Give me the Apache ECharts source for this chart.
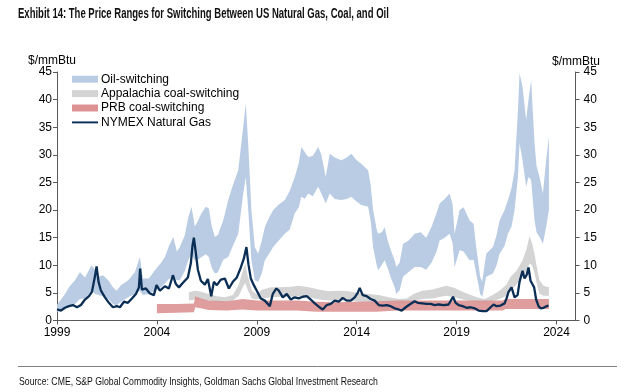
<!DOCTYPE html>
<html><head><meta charset="utf-8">
<script src="https://cdn.jsdelivr.net/npm/echarts@6/dist/echarts.min.js"></script>
<style>html,body{margin:0;padding:0;background:#fff}#c{width:640px;height:392px}</style>
</head><body><div id="c"></div><script>
const xTicks=[1999,2004,2009,2014,2019,2024];
const gasYears=[1999.0,1999.2,1999.4,1999.6,1999.8,2000.0,2000.2,2000.4,2000.6,2000.75,2000.9,2000.98,2001.08,2001.2,2001.4,2001.6,2001.8,2002.0,2002.15,2002.35,2002.55,2002.75,2002.95,2003.1,2003.16,2003.25,2003.45,2003.65,2003.85,2003.98,2004.15,2004.4,2004.6,2004.8,2004.95,2005.1,2005.35,2005.55,2005.7,2005.78,2005.85,2005.93,2006.05,2006.2,2006.4,2006.55,2006.72,2006.85,2007.0,2007.2,2007.4,2007.6,2007.8,2008.0,2008.2,2008.35,2008.48,2008.58,2008.7,2008.85,2009.0,2009.2,2009.4,2009.65,2009.8,2009.98,2010.1,2010.3,2010.5,2010.7,2010.9,2011.1,2011.3,2011.5,2011.7,2011.9,2012.1,2012.3,2012.5,2012.7,2012.9,2013.1,2013.3,2013.5,2013.7,2013.9,2014.05,2014.15,2014.3,2014.5,2014.7,2014.9,2015.1,2015.3,2015.5,2015.7,2015.9,2016.1,2016.25,2016.45,2016.65,2016.9,2017.05,2017.3,2017.5,2017.7,2017.9,2018.1,2018.35,2018.6,2018.82,2018.95,2019.1,2019.3,2019.5,2019.7,2019.9,2020.1,2020.3,2020.5,2020.7,2020.85,2021.0,2021.2,2021.4,2021.5,2021.6,2021.75,2021.9,2022.05,2022.15,2022.3,2022.4,2022.5,2022.6,2022.7,2022.8,2022.88,2022.98,2023.1,2023.2,2023.35,2023.5,2023.6];
const gasPrice=[2.0,1.8,2.3,2.6,2.8,2.4,2.8,3.8,4.4,5.2,8.0,9.8,7.0,5.4,4.2,3.2,2.4,2.6,2.4,3.4,3.2,4.0,4.8,6.0,9.4,5.6,5.8,4.9,4.6,6.4,5.4,6.2,5.8,8.2,6.6,6.0,7.0,7.8,10.4,13.5,15.0,12.8,9.2,7.2,6.5,7.5,4.4,7.0,6.4,7.4,7.6,5.8,7.0,7.8,9.6,11.2,13.3,10.2,7.6,6.4,5.4,4.0,3.6,2.6,4.8,5.8,5.4,4.2,4.8,3.8,4.2,4.0,4.3,4.4,3.8,3.1,2.5,2.0,2.8,3.0,3.6,3.4,4.1,3.6,3.6,4.2,5.0,5.9,4.6,4.4,3.9,3.6,2.8,2.7,2.8,2.6,2.2,2.0,1.8,2.4,2.9,3.5,3.2,3.1,3.0,3.0,2.8,2.9,2.8,2.9,4.3,3.2,2.8,2.6,2.3,2.4,2.2,1.8,1.7,1.7,2.4,2.9,2.6,2.7,3.1,4.0,5.2,6.0,4.2,4.6,7.0,9.0,7.6,8.2,9.6,7.2,7.0,6.0,3.8,2.6,2.2,2.3,2.6,2.7];
const oilYears=[1999.0,1999.2,1999.4,1999.6,1999.9,2000.15,2000.4,2000.73,2000.9,2001.07,2001.3,2001.57,2001.8,2001.98,2002.2,2002.57,2002.9,2003.15,2003.3,2003.6,2003.9,2004.2,2004.4,2004.6,2004.82,2005.0,2005.15,2005.4,2005.57,2005.73,2005.9,2006.05,2006.23,2006.45,2006.6,2006.75,2006.9,2007.05,2007.32,2007.57,2007.8,2008.07,2008.32,2008.45,2008.57,2008.73,2008.9,2009.07,2009.25,2009.4,2009.6,2009.82,2010.1,2010.4,2010.65,2010.9,2011.1,2011.23,2011.4,2011.57,2011.8,2012.07,2012.23,2012.45,2012.65,2012.9,2013.23,2013.5,2013.73,2014.0,2014.23,2014.57,2014.7,2014.82,2015.0,2015.07,2015.25,2015.4,2015.55,2015.73,2015.9,2015.98,2016.15,2016.32,2016.6,2016.9,2017.2,2017.48,2017.75,2018.0,2018.15,2018.4,2018.65,2018.8,2018.9,2019.15,2019.35,2019.65,2019.85,2019.98,2020.18,2020.28,2020.48,2020.82,2021.0,2021.15,2021.4,2021.57,2021.75,2021.9,2022.07,2022.15,2022.3,2022.48,2022.6,2022.73,2022.9,2023.0,2023.15,2023.32,2023.48,2023.62];
const oilLow=[1.6,1.9,2.1,2.6,3.0,3.9,4.0,5.4,4.8,4.6,4.4,3.9,3.0,2.7,3.4,4.2,4.8,5.4,4.6,4.8,5.4,6.0,6.7,7.5,7.9,7.3,7.3,9.0,10.9,12.0,10.8,11.0,11.5,12.0,11.5,9.5,8.5,8.7,11.0,11.5,13.5,15.7,23.0,26.0,20.0,10.9,7.3,7.0,8.5,10.9,12.0,13.3,14.5,15.7,16.5,19.4,20.5,22.4,22.0,23.0,22.5,24.2,23.0,21.2,23.0,22.0,21.8,22.0,22.4,21.5,20.9,20.6,18.0,13.3,10.0,9.1,10.0,10.9,9.5,7.5,6.0,4.8,5.5,7.9,8.8,9.7,9.7,9.2,10.5,12.5,14.5,15.0,15.7,14.0,9.7,12.7,12.5,10.9,11.0,8.5,4.8,4.2,7.9,8.5,10.0,12.1,13.5,15.7,17.0,20.0,26.0,32.1,29.0,24.2,26.0,25.4,18.1,16.0,15.1,13.9,16.9,20.0];
const oilHigh=[2.9,3.8,4.8,6.0,7.3,8.8,7.8,10.0,9.2,7.9,8.2,7.3,6.0,5.4,6.4,7.3,8.8,11.5,7.6,7.6,9.1,10.4,11.5,13.5,15.1,12.5,13.3,15.5,18.7,20.6,17.0,18.0,19.4,20.6,20.3,17.0,15.1,15.5,18.1,21.8,24.5,27.2,35.1,39.3,32.0,20.0,13.3,12.1,14.5,16.9,18.5,20.0,21.0,21.8,23.5,26.0,28.5,31.4,30.5,29.6,29.8,31.4,30.0,26.0,30.2,29.5,29.0,29.5,30.2,29.0,28.4,27.2,24.5,20.0,16.5,15.7,16.0,16.9,14.5,12.5,10.9,9.7,10.5,13.9,14.5,15.7,16.0,15.0,17.0,19.5,21.2,22.0,23.0,21.0,15.7,20.0,20.5,18.1,17.5,13.3,7.9,7.0,12.1,13.3,15.5,18.1,20.0,21.8,24.0,27.2,38.1,44.8,42.3,36.3,40.0,43.5,32.1,28.0,26.0,23.0,29.0,33.3];
const appYears=[2005.6,2005.9,2006.2,2006.6,2007.0,2007.4,2007.8,2008.1,2008.3,2008.42,2008.55,2008.75,2008.95,2009.3,2009.7,2010.2,2010.7,2011.1,2011.6,2012.1,2012.6,2013.1,2013.6,2014.1,2014.6,2015.1,2015.6,2016.1,2016.5,2016.9,2017.3,2017.8,2018.2,2018.5,2018.9,2019.3,2019.7,2020.1,2020.4,2020.8,2021.15,2021.5,2021.7,2022.0,2022.3,2022.5,2022.65,2022.78,2022.9,2023.05,2023.15,2023.35,2023.62];
const appLow=[3.6,3.8,3.7,3.6,3.4,3.3,3.6,4.5,6.0,6.8,5.5,4.0,3.8,4.0,4.2,4.3,4.3,4.4,4.2,3.8,3.6,3.6,3.6,3.4,3.3,3.3,3.1,3.0,3.1,3.6,3.9,4.0,4.3,4.5,4.2,3.8,3.5,3.2,3.0,3.5,3.9,4.5,5.4,6.5,7.9,9.0,10.3,10.0,8.5,6.0,4.8,4.5,4.5];
const appHigh=[5.1,5.4,5.2,4.8,4.4,4.2,4.6,6.5,9.0,10.3,8.0,5.5,4.8,5.6,6.0,6.0,6.1,6.3,6.0,5.6,5.3,5.4,5.3,5.0,4.8,4.6,4.2,3.9,4.0,4.9,5.4,5.6,6.0,6.3,5.9,5.2,4.6,4.1,3.9,4.6,5.4,6.5,7.9,9.0,10.9,13.0,15.3,14.0,12.0,9.0,7.3,6.3,6.0];
const prbYears=[2004.0,2005.0,2005.85,2005.92,2006.2,2006.6,2007.5,2008.3,2009.0,2010.0,2011.0,2012.0,2013.0,2014.0,2015.0,2016.0,2017.0,2018.0,2019.0,2020.0,2021.3,2021.45,2023.62];
const prbLow=[1.3,1.4,1.5,2.4,2.2,1.9,1.8,2.0,1.8,1.8,1.8,1.6,1.6,1.6,1.6,1.8,1.8,1.8,1.8,1.8,1.8,2.1,2.1];
const prbHigh=[3.0,3.0,3.1,4.4,4.0,3.6,3.5,3.9,3.6,3.6,3.6,3.4,3.3,3.4,3.5,3.6,3.6,3.6,3.6,3.6,3.6,3.9,3.9];

const FONT="'Liberation Sans', Arial, sans-serif";
function bandSeries(name,years,low,high,color,opacity){
  return {name:name,type:'custom',silent:true,z:2,
    itemStyle:{color:color},
    encode:{x:0,y:[1,2]},
    data:years.map((y,i)=>[y,low[i],high[i]]),
    renderItem:function(params,api){
      if(params.dataIndex!==0) return null;
      const pts=[];
      for(let i=0;i<years.length;i++) pts.push(api.coord([years[i],high[i]]));
      for(let i=years.length-1;i>=0;i--) pts.push(api.coord([years[i],low[i]]));
      return {type:'polygon',shape:{points:pts},style:{fill:color,opacity:opacity}};
    }};
}
const series=[
  bandSeries('Oil-switching',oilYears,oilLow,oilHigh,'#b9cce4',1),
  bandSeries('Appalachia coal-switching',appYears,appLow,appHigh,'#d4d4d4',1),
  bandSeries('PRB coal-switching',prbYears,prbLow,prbHigh,'#dc9292',0.9),
  {name:'NYMEX Natural Gas',type:'line',data:gasYears.map((y,i)=>[y,gasPrice[i]]),symbol:'none',showSymbol:false,color:'#0b2e55',lineStyle:{width:2.3,color:'#0b2e55'},z:5}
];
const chart=echarts.init(document.getElementById('c'),null,{renderer:'canvas'});
const yAx=(pos)=>({type:'value',position:pos,min:0,max:45,interval:5,
  axisLine:{show:true,lineStyle:{color:'#595959',width:1}},
  axisTick:{show:true,inside:false,length:4,lineStyle:{color:'#595959'}},
  axisLabel:{color:'#000',fontFamily:FONT,fontSize:12,margin:pos==='left'?5:8},
  splitLine:{show:false}});
chart.setOption({
  animation:false,
  grid:{left:57,right:64.5,top:72,bottom:71.5,containLabel:false},
  xAxis:{type:'value',min:1999,max:2024.95,
    axisLine:{show:true,onZero:false,lineStyle:{color:'#595959',width:1}},
    axisTick:{show:true,length:4,customValues:xTicks,lineStyle:{color:'#595959'}},
    axisLabel:{customValues:xTicks,color:'#000',fontFamily:FONT,fontSize:12,margin:6,formatter:v=>String(Math.round(v))},
    splitLine:{show:false}},
  yAxis:[yAx('left'),yAx('right')],
  legend:{orient:'vertical',left:72,top:73.2,padding:0,itemWidth:26,itemHeight:7,itemGap:2.4,
    textStyle:{color:'#000',fontFamily:FONT,fontSize:12,padding:[0,0,0,-2]},
    itemStyle:{borderWidth:0},
    data:[{name:'Oil-switching',icon:'rect'},{name:'Appalachia coal-switching',icon:'rect'},{name:'PRB coal-switching',icon:'rect'},{name:'NYMEX Natural Gas',icon:'path://M0,0H27V2H0Z',itemStyle:{color:'#0b2e55'}}]},
  graphic:[
    {type:'text',x:18,y:7,scaleX:0.68,style:{text:'Exhibit 14: The Price Ranges for Switching Between US Natural Gas, Coal, and Oil',fill:'#111',font:"bold 14px "+FONT}},
    {type:'text',x:28,y:55,style:{text:'$/mmBtu',fill:'#000',font:"12px "+FONT}},
    {type:'text',x:552,y:56,style:{text:'$/mmBtu',fill:'#000',font:"12px "+FONT}},
    {type:'line',shape:{x1:18,y1:366.5,x2:617,y2:366.5},style:{stroke:'#808080',lineWidth:1}},
    {type:'text',x:19,y:376,scaleX:0.79,style:{text:'Source: CME, S&P Global Commodity Insights, Goldman Sachs Global Investment Research',fill:'#111',font:"11px "+FONT}}
  ],
  series:series
});
</script></body></html>
